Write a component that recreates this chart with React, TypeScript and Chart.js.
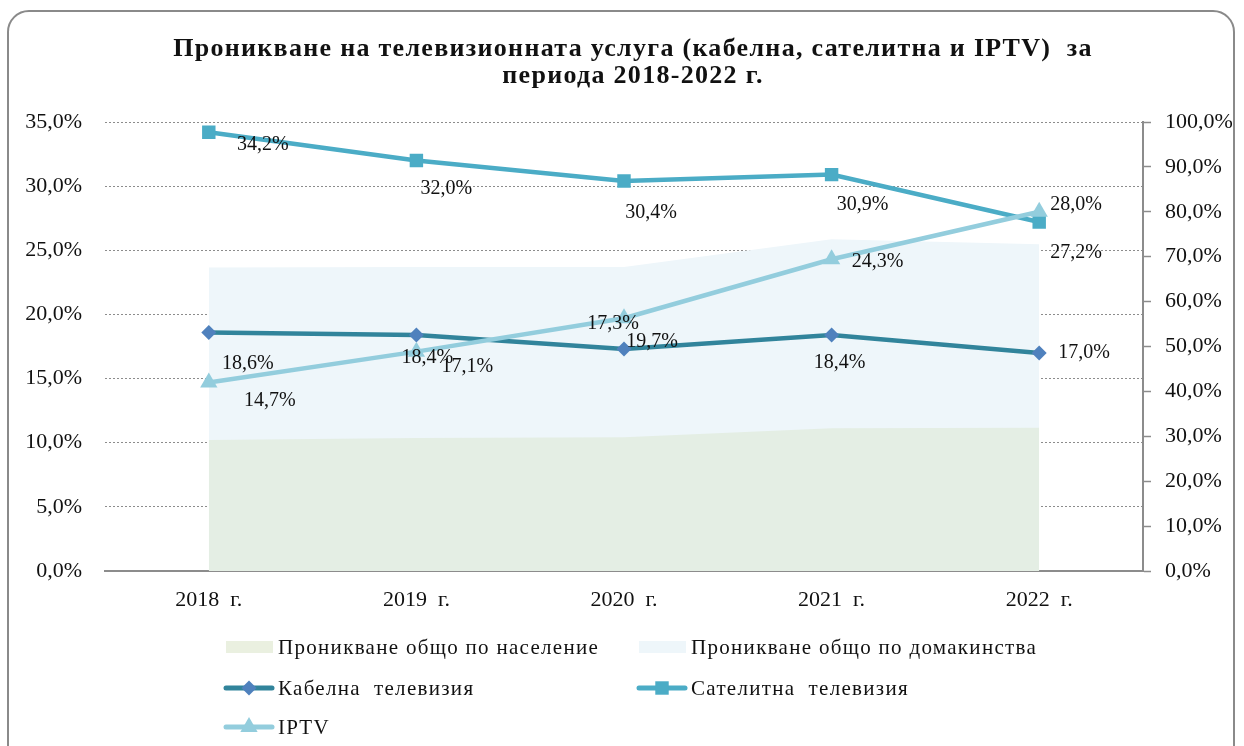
import React, { useEffect, useRef } from 'react';
import { Chart, registerables } from 'chart.js';

Chart.register(...registerables);

// ---- data ----
const categories = ['2018  г.', '2019  г.', '2020  г.', '2021  г.', '2022  г.'];
const populationPenetration = [29.2, 29.6, 29.8, 31.8, 31.9];
const householdPenetration = [67.6, 67.7, 67.7, 73.9, 72.8];
const cableTv = [18.6, 18.4, 17.3, 18.4, 17.0];
const satelliteTv = [34.2, 32.0, 30.4, 30.9, 27.2];
const iptv = [14.7, 17.1, 19.7, 24.3, 28.0];

const leftAxisMax = 35;
const leftAxisStep = 5;
const rightAxisMax = 100;
const rightAxisStep = 10;

const titleLines = [
  'Проникване на телевизионната услуга (кабелна, сателитна и IPTV)  за',
  'периода 2018-2022 г.',
];

// ---- label placement (pixel offsets from each point) ----
const cableLabelOffsets = [[39, 31], [11, 23], [-11, -25], [8, 28], [45, 0]];
const satelliteLabelOffsets = [[54, 12], [30, 28], [27, 32], [31, 30], [37, 31]];
const iptvLabelOffsets = [[61, 18], [51, 15], [28, 23], [46, 2], [37, -7]];

// ---- styles ----
const FONT = '"Liberation Serif", "Times New Roman", serif';
const COLORS = {
  population: '#E4EEE4',
  populationLegend: '#EAF0E0',
  households: '#EEF6FA',
  cableLine: '#31849B',
  cableMarker: '#4F81BD',
  satellite: '#4BACC6',
  iptv: '#93CDDD',
  grid: '#8c8c8c',
  axis: '#8c8c8c',
  text: '#111111',
};

const fmt = (v: number) => v.toFixed(1).replace('.', ',') + '%';

const labelOffsets: Record<string, number[][]> = {
  cable: cableLabelOffsets,
  satellite: satelliteLabelOffsets,
  iptv: iptvLabelOffsets,
};

const dataLabelPlugin = {
  id: 'dataLabels',
  afterDatasetsDraw(chart: any) {
    const ctx = chart.ctx;
    ctx.save();
    ctx.font = `20px ${FONT}`;
    ctx.fillStyle = COLORS.text;
    ctx.textAlign = 'center';
    ctx.textBaseline = 'middle';
    chart.data.datasets.forEach((ds: any, i: number) => {
      const offs = labelOffsets[ds.key];
      if (!offs) return;
      const meta = chart.getDatasetMeta(i);
      meta.data.forEach((pt: any, j: number) => {
        const [dx, dy] = offs[j];
        ctx.fillText(fmt(ds.data[j]), pt.x + dx, pt.y + dy);
      });
    });
    ctx.restore();
  },
};

const titlePlugin = {
  id: 'customTitle',
  afterDraw(chart: any) {
    const ctx = chart.ctx;
    ctx.save();
    ctx.font = `bold 26px ${FONT}`;
    (ctx as any).letterSpacing = '1.3px';
    ctx.fillStyle = COLORS.text;
    ctx.textAlign = 'center';
    ctx.textBaseline = 'alphabetic';
    ctx.fillText(titleLines[0], 633, 56);
    ctx.fillText(titleLines[1], 633, 83);
    ctx.restore();
  },
};

function drawMarker(ctx: CanvasRenderingContext2D, style: string, x: number, y: number, r: number, color: string) {
  ctx.save();
  ctx.fillStyle = color;
  ctx.beginPath();
  if (style === 'rectRot') {
    ctx.moveTo(x, y - r);
    ctx.lineTo(x + r, y);
    ctx.lineTo(x, y + r);
    ctx.lineTo(x - r, y);
    ctx.closePath();
  } else if (style === 'rect') {
    const s = r * Math.SQRT1_2;
    ctx.rect(x - s, y - s, 2 * s, 2 * s);
  } else if (style === 'triangle') {
    ctx.moveTo(x, y - r);
    ctx.lineTo(x + r * 0.866, y + r * 0.5);
    ctx.lineTo(x - r * 0.866, y + r * 0.5);
    ctx.closePath();
  }
  ctx.fill();
  ctx.restore();
}

const legendPlugin = {
  id: 'customLegend',
  afterDraw(chart: any) {
    const ctx = chart.ctx;
    const cols = [224, 637];
    const rows = [647, 688, 727];
    ctx.save();
    ctx.font = `21px ${FONT}`;
    ctx.textBaseline = 'middle';
    ctx.textAlign = 'left';
    chart.data.datasets.forEach((ds: any) => {
      const idx = ds.legendIndex;
      const x = cols[idx % 2];
      const y = rows[Math.floor(idx / 2)];
      if (ds.fill) {
        ctx.fillStyle = ds.legendColor || ds.backgroundColor;
        ctx.fillRect(x + 2, y - 6, 47, 12);
      } else {
        ctx.save();
        ctx.strokeStyle = ds.borderColor;
        ctx.lineWidth = 5;
        ctx.lineCap = 'round';
        ctx.beginPath();
        ctx.moveTo(x + 2, y);
        ctx.lineTo(x + 48, y);
        ctx.stroke();
        ctx.restore();
        drawMarker(ctx, ds.pointStyle, x + 25, y, ds.pointRadius, ds.pointBackgroundColor);
      }
      ctx.save();
      (ctx as any).letterSpacing = '1.3px';
      ctx.fillStyle = COLORS.text;
      ctx.fillText(ds.label, x + 54, y + 1);
      ctx.restore();
    });
    ctx.restore();
  },
};

export default function App() {
  const canvasRef = useRef<HTMLCanvasElement | null>(null);

  useEffect(() => {
    document.body.style.margin = '0';
    const canvas = canvasRef.current;
    if (!canvas) return;
    const chart = new Chart(canvas, {
      type: 'line',
      data: {
        labels: categories,
        datasets: [
          {
            key: 'iptv',
            legendIndex: 4,
            label: 'IPTV',
            data: iptv,
            yAxisID: 'y',
            borderColor: COLORS.iptv,
            backgroundColor: COLORS.iptv,
            pointBackgroundColor: COLORS.iptv,
            pointBorderWidth: 0,
            pointStyle: 'triangle',
            pointRadius: 10,
            borderWidth: 4.5,
            tension: 0,
            fill: false,
            order: 1,
          },
          {
            key: 'satellite',
            legendIndex: 3,
            label: 'Сателитна  телевизия',
            data: satelliteTv,
            yAxisID: 'y',
            borderColor: COLORS.satellite,
            backgroundColor: COLORS.satellite,
            pointBackgroundColor: COLORS.satellite,
            pointBorderWidth: 0,
            pointStyle: 'rect',
            pointRadius: 9.5,
            borderWidth: 4.5,
            tension: 0,
            fill: false,
            order: 2,
          },
          {
            key: 'cable',
            legendIndex: 2,
            label: 'Кабелна  телевизия',
            data: cableTv,
            yAxisID: 'y',
            borderColor: COLORS.cableLine,
            backgroundColor: COLORS.cableMarker,
            pointBackgroundColor: COLORS.cableMarker,
            pointBorderWidth: 0,
            pointStyle: 'rectRot',
            pointRadius: 7.5,
            borderWidth: 4.5,
            tension: 0,
            fill: false,
            order: 3,
          },
          {
            key: 'population',
            legendIndex: 0,
            label: 'Проникване общо по население',
            data: populationPenetration,
            yAxisID: 'y1',
            backgroundColor: COLORS.population,
            legendColor: COLORS.populationLegend,
            borderWidth: 0,
            borderColor: 'rgba(0,0,0,0)',
            pointRadius: 0,
            fill: 'origin',
            tension: 0,
            order: 4,
          },
          {
            key: 'households',
            legendIndex: 1,
            label: 'Проникване общо по домакинства',
            data: householdPenetration,
            yAxisID: 'y1',
            backgroundColor: COLORS.households,
            borderWidth: 0,
            borderColor: 'rgba(0,0,0,0)',
            pointRadius: 0,
            fill: 'origin',
            tension: 0,
            order: 5,
          },
        ] as any,
      },
      options: {
        animation: false,
        responsive: false,
        maintainAspectRatio: false,
        layout: { padding: { top: 122, bottom: 125, left: 0, right: 0 } },
        plugins: {
          legend: { display: false },
          title: { display: false },
          tooltip: { enabled: false },
        },
        scales: {
          x: {
            type: 'category',
            offset: true,
            grid: { display: false, drawTicks: false },
            border: { display: true, color: COLORS.axis, width: 2 },
            ticks: {
              color: COLORS.text,
              font: { family: FONT, size: 22 },
              padding: 16,
              maxRotation: 0,
            },
            afterFit: (s: any) => { s.height = 50; },
          },
          y: {
            position: 'left',
            min: 0,
            max: leftAxisMax,
            grid: {
              color: COLORS.grid,
              lineWidth: 1,
              drawTicks: false,
            },
            border: { display: false, dash: [2, 2] },
            ticks: {
              stepSize: leftAxisStep,
              color: COLORS.text,
              font: { family: FONT, size: 22 },
              padding: 23,
              callback: (v: any) => fmt(Number(v)),
            },
            afterFit: (s: any) => { s.width = 105; },
          },
          y1: {
            position: 'right',
            min: 0,
            max: rightAxisMax,
            grid: {
              drawOnChartArea: false,
              drawTicks: true,
              tickLength: 8,
              tickColor: COLORS.axis,
              tickWidth: 1.5,
            },
            border: { display: true, color: COLORS.axis, width: 2 },
            ticks: {
              stepSize: rightAxisStep,
              color: COLORS.text,
              font: { family: FONT, size: 22 },
              padding: 14,
              callback: (v: any) => fmt(Number(v)),
            },
            afterFit: (s: any) => { s.width = 101; },
          },
        },
      } as any,
      plugins: [dataLabelPlugin, titlePlugin, legendPlugin],
    });
    return () => chart.destroy();
  }, []);

  return (
    <div style={{ position: 'relative', width: 1244, height: 746, overflow: 'hidden', background: '#fff' }}>
      <canvas ref={canvasRef} width={1244} height={746} style={{ position: 'absolute', left: 0, top: 0, width: 1244, height: 746 }} />
      <div
        style={{
          position: 'absolute',
          left: 7,
          top: 10,
          width: 1228,
          height: 800,
          border: '2px solid #8a8a8a',
          borderRadius: 22,
          boxSizing: 'border-box',
          pointerEvents: 'none',
        }}
      />
    </div>
  );
}
